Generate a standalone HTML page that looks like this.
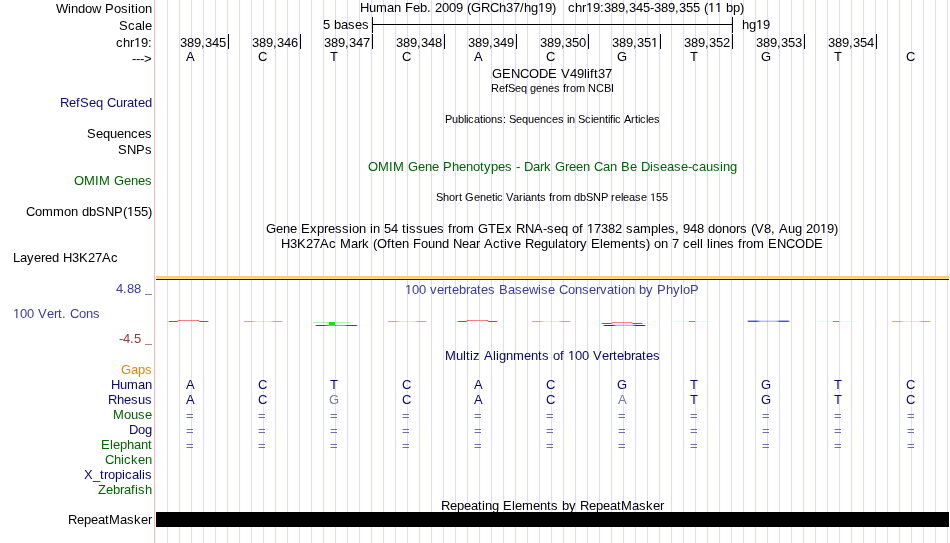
<!DOCTYPE html>
<html><head><meta charset="utf-8"><style>
html,body{margin:0;padding:0;background:#fff;width:950px;height:543px;overflow:hidden}
svg{display:block;will-change:transform}
text{font-family:"Liberation Sans",sans-serif}
</style></head><body>
<svg width="950" height="543" viewBox="0 0 950 543">
<rect x="0" y="0" width="950" height="543" fill="#fff"/>
<defs><linearGradient id="g0" x1="0" x2="1" y1="0" y2="0"><stop offset="0" stop-color="#ff0000" stop-opacity="0"/><stop offset="0.04" stop-color="#ff0000" stop-opacity="0.85"/><stop offset="0.22" stop-color="#ff0000" stop-opacity="0.85"/><stop offset="0.32" stop-color="#ff0000" stop-opacity="0.5"/><stop offset="0.68" stop-color="#ff0000" stop-opacity="0.5"/><stop offset="0.78" stop-color="#ff0000" stop-opacity="0.85"/><stop offset="0.96" stop-color="#ff0000" stop-opacity="0.85"/><stop offset="1" stop-color="#ff0000" stop-opacity="0"/></linearGradient><linearGradient id="g1" x1="0" x2="1" y1="0" y2="0"><stop offset="0" stop-color="#a09810" stop-opacity="0"/><stop offset="0.04" stop-color="#a09810" stop-opacity="0.7"/><stop offset="0.22" stop-color="#a09810" stop-opacity="0.7"/><stop offset="0.32" stop-color="#a09810" stop-opacity="0.22"/><stop offset="0.68" stop-color="#a09810" stop-opacity="0.22"/><stop offset="0.78" stop-color="#a09810" stop-opacity="0.7"/><stop offset="0.96" stop-color="#a09810" stop-opacity="0.7"/><stop offset="1" stop-color="#a09810" stop-opacity="0"/></linearGradient><linearGradient id="g2" x1="0" x2="1" y1="0" y2="0"><stop offset="0" stop-color="#0000ff" stop-opacity="0"/><stop offset="0.04" stop-color="#0000ff" stop-opacity="0.8"/><stop offset="0.22" stop-color="#0000ff" stop-opacity="0.8"/><stop offset="0.32" stop-color="#0000ff" stop-opacity="0.4"/><stop offset="0.68" stop-color="#0000ff" stop-opacity="0.4"/><stop offset="0.78" stop-color="#0000ff" stop-opacity="0.8"/><stop offset="0.96" stop-color="#0000ff" stop-opacity="0.8"/><stop offset="1" stop-color="#0000ff" stop-opacity="0"/></linearGradient><linearGradient id="g3" x1="0" x2="1" y1="0" y2="0"><stop offset="0" stop-color="#0000ff" stop-opacity="0"/><stop offset="0.04" stop-color="#0000ff" stop-opacity="0.9"/><stop offset="0.22" stop-color="#0000ff" stop-opacity="0.9"/><stop offset="0.32" stop-color="#0000ff" stop-opacity="0.3"/><stop offset="0.68" stop-color="#0000ff" stop-opacity="0.3"/><stop offset="0.78" stop-color="#0000ff" stop-opacity="0.9"/><stop offset="0.96" stop-color="#0000ff" stop-opacity="0.9"/><stop offset="1" stop-color="#0000ff" stop-opacity="0"/></linearGradient><linearGradient id="g4" x1="0" x2="1" y1="0" y2="0"><stop offset="0" stop-color="#0000ff" stop-opacity="0"/><stop offset="0.04" stop-color="#0000ff" stop-opacity="0.8"/><stop offset="0.22" stop-color="#0000ff" stop-opacity="0.8"/><stop offset="0.32" stop-color="#0000ff" stop-opacity="0.3"/><stop offset="0.68" stop-color="#0000ff" stop-opacity="0.3"/><stop offset="0.78" stop-color="#0000ff" stop-opacity="0.8"/><stop offset="0.96" stop-color="#0000ff" stop-opacity="0.8"/><stop offset="1" stop-color="#0000ff" stop-opacity="0"/></linearGradient></defs>
<rect x="167" y="0" width="1" height="543" fill="#dcdcff"/>
<rect x="179" y="0" width="1" height="543" fill="#dcdcff"/>
<rect x="191" y="0" width="1" height="543" fill="#dcdcff"/>
<rect x="203" y="0" width="1" height="543" fill="#dcdcff"/>
<rect x="215" y="0" width="1" height="543" fill="#dcdcff"/>
<rect x="227" y="0" width="1" height="543" fill="#dcdcff"/>
<rect x="239" y="0" width="1" height="543" fill="#dcdcff"/>
<rect x="251" y="0" width="1" height="543" fill="#dcdcff"/>
<rect x="263" y="0" width="1" height="543" fill="#dcdcff"/>
<rect x="275" y="0" width="1" height="543" fill="#dcdcff"/>
<rect x="287" y="0" width="1" height="543" fill="#dcdcff"/>
<rect x="299" y="0" width="1" height="543" fill="#dcdcff"/>
<rect x="311" y="0" width="1" height="543" fill="#dcdcff"/>
<rect x="323" y="0" width="1" height="543" fill="#dcdcff"/>
<rect x="335" y="0" width="1" height="543" fill="#dcdcff"/>
<rect x="347" y="0" width="1" height="543" fill="#dcdcff"/>
<rect x="359" y="0" width="1" height="543" fill="#dcdcff"/>
<rect x="371" y="0" width="1" height="543" fill="#dcdcff"/>
<rect x="383" y="0" width="1" height="543" fill="#dcdcff"/>
<rect x="395" y="0" width="1" height="543" fill="#dcdcff"/>
<rect x="407" y="0" width="1" height="543" fill="#dcdcff"/>
<rect x="419" y="0" width="1" height="543" fill="#dcdcff"/>
<rect x="431" y="0" width="1" height="543" fill="#dcdcff"/>
<rect x="443" y="0" width="1" height="543" fill="#dcdcff"/>
<rect x="455" y="0" width="1" height="543" fill="#dcdcff"/>
<rect x="467" y="0" width="1" height="543" fill="#dcdcff"/>
<rect x="479" y="0" width="1" height="543" fill="#dcdcff"/>
<rect x="491" y="0" width="1" height="543" fill="#dcdcff"/>
<rect x="503" y="0" width="1" height="543" fill="#dcdcff"/>
<rect x="515" y="0" width="1" height="543" fill="#dcdcff"/>
<rect x="527" y="0" width="1" height="543" fill="#dcdcff"/>
<rect x="539" y="0" width="1" height="543" fill="#dcdcff"/>
<rect x="551" y="0" width="1" height="543" fill="#dcdcff"/>
<rect x="563" y="0" width="1" height="543" fill="#dcdcff"/>
<rect x="575" y="0" width="1" height="543" fill="#dcdcff"/>
<rect x="587" y="0" width="1" height="543" fill="#dcdcff"/>
<rect x="599" y="0" width="1" height="543" fill="#dcdcff"/>
<rect x="611" y="0" width="1" height="543" fill="#dcdcff"/>
<rect x="623" y="0" width="1" height="543" fill="#dcdcff"/>
<rect x="635" y="0" width="1" height="543" fill="#dcdcff"/>
<rect x="647" y="0" width="1" height="543" fill="#dcdcff"/>
<rect x="659" y="0" width="1" height="543" fill="#dcdcff"/>
<rect x="671" y="0" width="1" height="543" fill="#dcdcff"/>
<rect x="683" y="0" width="1" height="543" fill="#dcdcff"/>
<rect x="695" y="0" width="1" height="543" fill="#dcdcff"/>
<rect x="707" y="0" width="1" height="543" fill="#dcdcff"/>
<rect x="719" y="0" width="1" height="543" fill="#dcdcff"/>
<rect x="731" y="0" width="1" height="543" fill="#dcdcff"/>
<rect x="743" y="0" width="1" height="543" fill="#dcdcff"/>
<rect x="755" y="0" width="1" height="543" fill="#dcdcff"/>
<rect x="767" y="0" width="1" height="543" fill="#dcdcff"/>
<rect x="779" y="0" width="1" height="543" fill="#dcdcff"/>
<rect x="791" y="0" width="1" height="543" fill="#dcdcff"/>
<rect x="803" y="0" width="1" height="543" fill="#dcdcff"/>
<rect x="815" y="0" width="1" height="543" fill="#dcdcff"/>
<rect x="827" y="0" width="1" height="543" fill="#dcdcff"/>
<rect x="839" y="0" width="1" height="543" fill="#dcdcff"/>
<rect x="851" y="0" width="1" height="543" fill="#dcdcff"/>
<rect x="863" y="0" width="1" height="543" fill="#dcdcff"/>
<rect x="875" y="0" width="1" height="543" fill="#dcdcff"/>
<rect x="887" y="0" width="1" height="543" fill="#dcdcff"/>
<rect x="899" y="0" width="1" height="543" fill="#dcdcff"/>
<rect x="911" y="0" width="1" height="543" fill="#dcdcff"/>
<rect x="923" y="0" width="1" height="543" fill="#dcdcff"/>
<rect x="935" y="0" width="1" height="543" fill="#dcdcff"/>
<rect x="947" y="0" width="1" height="543" fill="#dcdcff"/>
<rect x="154" y="0" width="1" height="543" fill="#ffb4b4"/>
<g transform="translate(0 13) scale(1 1.05)"><text x="56 68 71 78 85 92 105 114 121 128 131 135 138 145" y="0" font-size="13" fill="#000" >WindowPosition</text></g>
<g transform="translate(0 30) scale(1 1.05)"><text x="119 128 135 142 145" y="0" font-size="13" fill="#000" >Scale</text></g>
<path transform="translate(134.0 47) scale(0.006348 -0.006348)" d="M515 0V1237L197 1010V1180L530 1409H696V0Z" fill="#000"/>
<g transform="translate(0 47) scale(1 1.05)"><text x="116 123 130 141 148" y="0" font-size="13" fill="#000" >chr9:</text></g>
<g transform="translate(0 63) scale(1 1.05)"><text x="132 136 140 144" y="0" font-size="13" fill="#000" >---&gt;</text></g>
<g transform="translate(0 107) scale(1 1.05)"><text x="60 69 76 80 89 96 107 116 123 127 134 138 145" y="0" font-size="13" fill="#0c0c78" >RefSeqCurated</text></g>
<g transform="translate(0 138) scale(1 1.05)"><text x="87 96 103 110 117 124 131 138 145" y="0" font-size="13" fill="#000" >Sequences</text></g>
<g transform="translate(0 154) scale(1 1.05)"><text x="118 127 136 145" y="0" font-size="13" fill="#000" >SNPs</text></g>
<g transform="translate(0 185) scale(1 1.05)"><text x="74 84 95 99 114 124 131 138 145" y="0" font-size="13" fill="#006400" >OMIMGenes</text></g>
<path transform="translate(127.0 216) scale(0.006348 -0.006348)" d="M515 0V1237L197 1010V1180L530 1409H696V0Z" fill="#000"/>
<g transform="translate(0 216) scale(1 1.05)"><text x="26 35 42 53 64 71 82 89 96 105 114 123 134 141 148" y="0" font-size="13" fill="#000" >CommondbSNP(55)</text></g>
<g transform="translate(0 262) scale(1 1.05)"><text x="13 20 27 34 41 45 52 63 72 79 88 95 102 111" y="0" font-size="13" fill="#000" >LayeredH3K27Ac</text></g>
<path transform="translate(538.0 12) scale(0.006348 -0.006348)" d="M515 0V1237L197 1010V1180L530 1409H696V0Z" fill="#000"/>
<g transform="translate(0 12) scale(1 1.05)"><text x="360 369 376 387 394 405 413 420 427 435 442 449 456 467 471 481 490 499 506 513 520 524 531 545 552" y="0" font-size="13" fill="#000" >HumanFeb.2009(GRCh37/hg9)</text></g>
<path transform="translate(586.0 12) scale(0.006348 -0.006348)" d="M515 0V1237L197 1010V1180L530 1409H696V0Z" fill="#000"/>
<path transform="translate(708.0 12) scale(0.006348 -0.006348)" d="M515 0V1237L197 1010V1180L530 1409H696V0Z" fill="#000"/>
<path transform="translate(715.0 12) scale(0.006348 -0.006348)" d="M515 0V1237L197 1010V1180L530 1409H696V0Z" fill="#000"/>
<g transform="translate(0 12) scale(1 1.05)"><text x="568 575 582 593 600 604 611 618 625 629 636 643 650 654 661 668 675 679 686 693 704 726 733 740" y="0" font-size="13" fill="#000" >chr9:389,345-389,355(bp)</text></g>
<g transform="translate(0 29) scale(1 1.05)"><text x="323 334 341 348 355 362" y="0" font-size="13" fill="#000" >5bases</text></g>
<rect x="372" y="17" width="1" height="16" fill="#000"/>
<rect x="732" y="17" width="1" height="16" fill="#000"/>
<rect x="372" y="24" width="361" height="1" fill="#000"/>
<path transform="translate(756.0 29) scale(0.006348 -0.006348)" d="M515 0V1237L197 1010V1180L530 1409H696V0Z" fill="#000"/>
<g transform="translate(0 29) scale(1 1.05)"><text x="742 749 763" y="0" font-size="13" fill="#000" >hg9</text></g>
<rect x="228" y="34" width="1" height="15" fill="#000"/>
<g transform="translate(0 47) scale(1 1.05)"><text x="180 187 194 201 205 212 219" y="0" font-size="13" fill="#000" >389,345</text></g>
<rect x="300" y="34" width="1" height="15" fill="#000"/>
<g transform="translate(0 47) scale(1 1.05)"><text x="252 259 266 273 277 284 291" y="0" font-size="13" fill="#000" >389,346</text></g>
<rect x="372" y="34" width="1" height="15" fill="#000"/>
<g transform="translate(0 47) scale(1 1.05)"><text x="324 331 338 345 349 356 363" y="0" font-size="13" fill="#000" >389,347</text></g>
<rect x="444" y="34" width="1" height="15" fill="#000"/>
<g transform="translate(0 47) scale(1 1.05)"><text x="396 403 410 417 421 428 435" y="0" font-size="13" fill="#000" >389,348</text></g>
<rect x="516" y="34" width="1" height="15" fill="#000"/>
<g transform="translate(0 47) scale(1 1.05)"><text x="468 475 482 489 493 500 507" y="0" font-size="13" fill="#000" >389,349</text></g>
<rect x="588" y="34" width="1" height="15" fill="#000"/>
<g transform="translate(0 47) scale(1 1.05)"><text x="540 547 554 561 565 572 579" y="0" font-size="13" fill="#000" >389,350</text></g>
<rect x="660" y="34" width="1" height="15" fill="#000"/>
<path transform="translate(651.0 47) scale(0.006348 -0.006348)" d="M515 0V1237L197 1010V1180L530 1409H696V0Z" fill="#000"/>
<g transform="translate(0 47) scale(1 1.05)"><text x="612 619 626 633 637 644" y="0" font-size="13" fill="#000" >389,35</text></g>
<rect x="732" y="34" width="1" height="15" fill="#000"/>
<g transform="translate(0 47) scale(1 1.05)"><text x="684 691 698 705 709 716 723" y="0" font-size="13" fill="#000" >389,352</text></g>
<rect x="804" y="34" width="1" height="15" fill="#000"/>
<g transform="translate(0 47) scale(1 1.05)"><text x="756 763 770 777 781 788 795" y="0" font-size="13" fill="#000" >389,353</text></g>
<rect x="876" y="34" width="1" height="15" fill="#000"/>
<g transform="translate(0 47) scale(1 1.05)"><text x="828 835 842 849 853 860 867" y="0" font-size="13" fill="#000" >389,354</text></g>
<g transform="translate(0 61) scale(1 1.05)"><text x="186" y="0" font-size="13" fill="#000" >A</text></g>
<g transform="translate(0 61) scale(1 1.05)"><text x="258" y="0" font-size="13" fill="#000" >C</text></g>
<g transform="translate(0 61) scale(1 1.05)"><text x="330" y="0" font-size="13" fill="#000" >T</text></g>
<g transform="translate(0 61) scale(1 1.05)"><text x="402" y="0" font-size="13" fill="#000" >C</text></g>
<g transform="translate(0 61) scale(1 1.05)"><text x="474" y="0" font-size="13" fill="#000" >A</text></g>
<g transform="translate(0 61) scale(1 1.05)"><text x="546" y="0" font-size="13" fill="#000" >C</text></g>
<g transform="translate(0 61) scale(1 1.05)"><text x="617" y="0" font-size="13" fill="#000" >G</text></g>
<g transform="translate(0 61) scale(1 1.05)"><text x="690" y="0" font-size="13" fill="#000" >T</text></g>
<g transform="translate(0 61) scale(1 1.05)"><text x="761" y="0" font-size="13" fill="#000" >G</text></g>
<g transform="translate(0 61) scale(1 1.05)"><text x="834" y="0" font-size="13" fill="#000" >T</text></g>
<g transform="translate(0 61) scale(1 1.05)"><text x="906" y="0" font-size="13" fill="#000" >C</text></g>
<g transform="translate(0 78) scale(1 1.05)"><text x="492 502 511 520 529 539 548 561 570 577 584 587 590 594 598 605" y="0" font-size="13" fill="#000" >GENCODEV49lift37</text></g>
<text x="491 499 505 508 515 521 530 536 542 548 554 563 566 570 576 588 596 604 611" y="92" font-size="11" fill="#000" >RefSeqgenesfromNCBI</text>
<text x="445 452 458 464 466 468 474 480 483 485 491 497 503 509 516 522 528 534 540 546 552 558 567 569 578 585 591 593 599 605 608 610 613 615 624 631 635 638 640 646 648 654" y="123" font-size="11" fill="#000" >Publications:SequencesinScientificArticles</text>
<g transform="translate(0 171) scale(1 1.05)"><text x="368 378 389 393 408 418 425 432 443 452 459 466 473 480 484 491 498 505 516 524 533 540 544 555 565 569 576 583 594 603 610 621 630 641 650 653 660 667 674 681 688 692 699 706 713 720 723 730" y="0" font-size="13" fill="#006400" >OMIMGenePhenotypes-DarkGreenCanBeDisease-causing</text></g>
<path transform="translate(650.0 201) scale(0.005371 -0.005371)" d="M515 0V1237L197 1010V1180L530 1409H696V0Z" fill="#000"/>
<text x="436 443 449 455 459 465 474 480 486 492 495 497 506 513 519 523 525 531 537 540 549 552 556 562 574 580 586 593 601 611 615 621 623 629 635 641 656 662" y="201" font-size="11" fill="#000" >ShortGeneticVariantsfromdbSNPrelease55</text>
<path transform="translate(587.0 233) scale(0.006348 -0.006348)" d="M515 0V1237L197 1010V1180L530 1409H696V0Z" fill="#000"/>
<path transform="translate(820.0 233) scale(0.006348 -0.006348)" d="M515 0V1237L197 1010V1180L530 1409H696V0Z" fill="#000"/>
<g transform="translate(0 233) scale(1 1.05)"><text x="266 276 283 290 301 310 317 324 328 335 342 349 352 359 370 373 384 391 402 406 409 416 423 430 437 448 452 456 463 478 488 496 505 516 525 534 543 547 554 561 572 579 594 601 608 615 626 633 640 651 658 661 668 675 683 690 697 708 715 722 729 736 740 751 755 764 771 779 788 795 806 813 827 834" y="0" font-size="13" fill="#000" >GeneExpressionin54tissuesfromGTExRNA-seqof7382samples,948donors(V8,Aug209)</text></g>
<g transform="translate(0 248) scale(1 1.05)"><text x="281 290 297 306 313 320 329 340 351 358 362 373 377 387 391 395 402 413 421 428 435 442 453 462 469 476 484 493 500 504 507 514 525 534 541 548 555 558 565 569 576 580 591 600 603 610 621 628 635 639 646 654 661 672 683 690 697 700 707 710 713 720 727 738 742 746 753 768 777 786 795 805 814" y="0" font-size="13" fill="#000" >H3K27AcMark(OftenFoundNearActiveRegulatoryElements)on7celllinesfromENCODE</text></g>
<rect x="156" y="276" width="793" height="2" fill="#fccd74"/>
<rect x="156" y="278" width="793" height="1" fill="#ffdf88"/>
<rect x="156" y="279" width="793" height="1" fill="#3a0a2a"/>
<path transform="translate(405.0 294) scale(0.006348 -0.006348)" d="M515 0V1237L197 1010V1180L530 1409H696V0Z" fill="#3c3c96"/>
<g transform="translate(0 294) scale(1 1.05)"><text x="412 419 430 437 444 448 452 459 466 470 477 481 488 499 508 515 522 529 538 541 548 559 568 575 582 589 596 600 607 614 618 621 628 639 646 657 666 673 680 683 690" y="0" font-size="13" fill="#3c3c96" >00vertebratesBasewiseConservationbyPhyloP</text></g>
<g transform="translate(0 293) scale(1 1.05)"><text x="116 123 127 134" y="0" font-size="13" fill="#3c3c96" >4.88</text></g>
<rect x="145" y="294" width="7" height="1" fill="#8080bb"/>
<path transform="translate(13 318) scale(0.006348 -0.006348)" d="M515 0V1237L197 1010V1180L530 1409H696V0Z" fill="#3c3c96"/>
<g transform="translate(0 318) scale(1 1.05)"><text x="20 27 38 47 54 58 62 70 79 86 93" y="0" font-size="13" fill="#3c3c96" >00Vert.Cons</text></g>
<g transform="translate(0 343) scale(1 1.05)"><text x="119 123 130 134" y="0" font-size="13" fill="#8c3c3c" >-4.5</text></g>
<rect x="145" y="344" width="7" height="1" fill="#b48080"/>
<path d="M168 321.5 L177 321.5 L179 320.5 L198 320.5 L200 321.5 L209 321.5" stroke="url(#g0)" stroke-width="1" fill="none"/>
<path d="M457 321.5 L466 321.5 L468 320.5 L487 320.5 L489 321.5 L498 321.5" stroke="url(#g0)" stroke-width="1" fill="none"/>
<path d="M601 323.5 L611 323.5 L613 322.5 L631 322.5 L633 323.5 L643 323.5" stroke="url(#g0)" stroke-width="1" fill="none"/>
<rect x="243" y="321" width="40" height="1" fill="url(#g1)"/>
<rect x="387" y="321" width="40" height="1" fill="url(#g1)"/>
<rect x="531" y="321" width="40" height="1" fill="url(#g1)"/>
<rect x="891" y="321" width="40" height="1" fill="url(#g1)"/>
<rect x="313" y="322" width="38" height="1" fill="#00e000" fill-opacity="0.3"/>
<rect x="329" y="322" width="6" height="3" fill="#00f000" fill-opacity="1.0"/>
<rect x="315" y="325" width="43" height="1" fill="url(#g2)"/>
<rect x="603" y="325" width="43" height="1" fill="url(#g3)"/>
<rect x="612" y="324" width="25" height="1" fill="#0000ff" fill-opacity="0.12"/>
<rect x="747" y="320.6" width="43" height="1.3" fill="url(#g4)"/>
<rect x="673" y="321" width="38" height="1" fill="#00e000" fill-opacity="0.1"/>
<rect x="689" y="321" width="6" height="1" fill="#00e000" fill-opacity="0.9"/>
<rect x="817" y="321" width="38" height="1" fill="#00e000" fill-opacity="0.1"/>
<rect x="833" y="321" width="6" height="1" fill="#00e000" fill-opacity="0.9"/>
<path transform="translate(568.0 360) scale(0.006348 -0.006348)" d="M515 0V1237L197 1010V1180L530 1409H696V0Z" fill="#08086a"/>
<g transform="translate(0 360) scale(1 1.05)"><text x="445 456 463 466 470 473 484 493 496 499 506 513 524 531 538 542 553 560 575 582 593 602 609 613 617 624 631 635 642 646 653" y="0" font-size="13" fill="#08086a" >MultizAlignmentsof00Vertebrates</text></g>
<g transform="translate(0 374) scale(1 1.05)"><text x="121 131 138 145" y="0" font-size="13" fill="#e0860a" >Gaps</text></g>
<g transform="translate(0 389) scale(1 1.05)"><text x="111 120 127 138 145" y="0" font-size="13" fill="#08086a" >Human</text></g>
<g transform="translate(0 404) scale(1 1.05)"><text x="108 117 124 131 138 145" y="0" font-size="13" fill="#08086a" >Rhesus</text></g>
<g transform="translate(0 419) scale(1 1.05)"><text x="113 124 131 138 145" y="0" font-size="13" fill="#006400" >Mouse</text></g>
<g transform="translate(0 434) scale(1 1.05)"><text x="129 138 145" y="0" font-size="13" fill="#08086a" >Dog</text></g>
<g transform="translate(0 449) scale(1 1.05)"><text x="101 110 113 120 127 134 141 148" y="0" font-size="13" fill="#006400" >Elephant</text></g>
<g transform="translate(0 464) scale(1 1.05)"><text x="105 114 121 124 131 138 145" y="0" font-size="13" fill="#006400" >Chicken</text></g>
<g transform="translate(0 479) scale(1 1.05)"><text x="84 93 100 104 108 115 122 125 132 139 142 145" y="0" font-size="13" fill="#08086a" >X_tropicalis</text></g>
<g transform="translate(0 494) scale(1 1.05)"><text x="98 106 113 120 124 131 135 138 145" y="0" font-size="13" fill="#006400" >Zebrafish</text></g>
<g transform="translate(0 389) scale(1 1.05)"><text x="186" y="0" font-size="13" fill="#08086a" >A</text></g>
<g transform="translate(0 389) scale(1 1.05)"><text x="258" y="0" font-size="13" fill="#08086a" >C</text></g>
<g transform="translate(0 389) scale(1 1.05)"><text x="330" y="0" font-size="13" fill="#08086a" >T</text></g>
<g transform="translate(0 389) scale(1 1.05)"><text x="402" y="0" font-size="13" fill="#08086a" >C</text></g>
<g transform="translate(0 389) scale(1 1.05)"><text x="474" y="0" font-size="13" fill="#08086a" >A</text></g>
<g transform="translate(0 389) scale(1 1.05)"><text x="546" y="0" font-size="13" fill="#08086a" >C</text></g>
<g transform="translate(0 389) scale(1 1.05)"><text x="617" y="0" font-size="13" fill="#08086a" >G</text></g>
<g transform="translate(0 389) scale(1 1.05)"><text x="690" y="0" font-size="13" fill="#08086a" >T</text></g>
<g transform="translate(0 389) scale(1 1.05)"><text x="761" y="0" font-size="13" fill="#08086a" >G</text></g>
<g transform="translate(0 389) scale(1 1.05)"><text x="834" y="0" font-size="13" fill="#08086a" >T</text></g>
<g transform="translate(0 389) scale(1 1.05)"><text x="906" y="0" font-size="13" fill="#08086a" >C</text></g>
<g transform="translate(0 404) scale(1 1.05)"><text x="186" y="0" font-size="13" fill="#08086a" >A</text></g>
<g transform="translate(0 404) scale(1 1.05)"><text x="258" y="0" font-size="13" fill="#08086a" >C</text></g>
<g transform="translate(0 404) scale(1 1.05)"><text x="329" y="0" font-size="13" fill="#7878a8" >G</text></g>
<g transform="translate(0 404) scale(1 1.05)"><text x="402" y="0" font-size="13" fill="#08086a" >C</text></g>
<g transform="translate(0 404) scale(1 1.05)"><text x="474" y="0" font-size="13" fill="#08086a" >A</text></g>
<g transform="translate(0 404) scale(1 1.05)"><text x="546" y="0" font-size="13" fill="#08086a" >C</text></g>
<g transform="translate(0 404) scale(1 1.05)"><text x="618" y="0" font-size="13" fill="#7878a8" >A</text></g>
<g transform="translate(0 404) scale(1 1.05)"><text x="690" y="0" font-size="13" fill="#08086a" >T</text></g>
<g transform="translate(0 404) scale(1 1.05)"><text x="761" y="0" font-size="13" fill="#08086a" >G</text></g>
<g transform="translate(0 404) scale(1 1.05)"><text x="834" y="0" font-size="13" fill="#08086a" >T</text></g>
<g transform="translate(0 404) scale(1 1.05)"><text x="906" y="0" font-size="13" fill="#08086a" >C</text></g>
<rect x="187" y="414" width="6" height="1" fill="#6e6eaa"/>
<rect x="186" y="414" width="1" height="1" fill="#c8c8e0"/>
<rect x="187" y="417" width="6" height="1" fill="#6e6eaa"/>
<rect x="186" y="417" width="1" height="1" fill="#c8c8e0"/>
<rect x="259" y="414" width="6" height="1" fill="#6e6eaa"/>
<rect x="258" y="414" width="1" height="1" fill="#c8c8e0"/>
<rect x="259" y="417" width="6" height="1" fill="#6e6eaa"/>
<rect x="258" y="417" width="1" height="1" fill="#c8c8e0"/>
<rect x="331" y="414" width="6" height="1" fill="#6e6eaa"/>
<rect x="330" y="414" width="1" height="1" fill="#c8c8e0"/>
<rect x="331" y="417" width="6" height="1" fill="#6e6eaa"/>
<rect x="330" y="417" width="1" height="1" fill="#c8c8e0"/>
<rect x="403" y="414" width="6" height="1" fill="#6e6eaa"/>
<rect x="402" y="414" width="1" height="1" fill="#c8c8e0"/>
<rect x="403" y="417" width="6" height="1" fill="#6e6eaa"/>
<rect x="402" y="417" width="1" height="1" fill="#c8c8e0"/>
<rect x="475" y="414" width="6" height="1" fill="#6e6eaa"/>
<rect x="474" y="414" width="1" height="1" fill="#c8c8e0"/>
<rect x="475" y="417" width="6" height="1" fill="#6e6eaa"/>
<rect x="474" y="417" width="1" height="1" fill="#c8c8e0"/>
<rect x="547" y="414" width="6" height="1" fill="#6e6eaa"/>
<rect x="546" y="414" width="1" height="1" fill="#c8c8e0"/>
<rect x="547" y="417" width="6" height="1" fill="#6e6eaa"/>
<rect x="546" y="417" width="1" height="1" fill="#c8c8e0"/>
<rect x="619" y="414" width="6" height="1" fill="#6e6eaa"/>
<rect x="618" y="414" width="1" height="1" fill="#c8c8e0"/>
<rect x="619" y="417" width="6" height="1" fill="#6e6eaa"/>
<rect x="618" y="417" width="1" height="1" fill="#c8c8e0"/>
<rect x="691" y="414" width="6" height="1" fill="#6e6eaa"/>
<rect x="690" y="414" width="1" height="1" fill="#c8c8e0"/>
<rect x="691" y="417" width="6" height="1" fill="#6e6eaa"/>
<rect x="690" y="417" width="1" height="1" fill="#c8c8e0"/>
<rect x="763" y="414" width="6" height="1" fill="#6e6eaa"/>
<rect x="762" y="414" width="1" height="1" fill="#c8c8e0"/>
<rect x="763" y="417" width="6" height="1" fill="#6e6eaa"/>
<rect x="762" y="417" width="1" height="1" fill="#c8c8e0"/>
<rect x="835" y="414" width="6" height="1" fill="#6e6eaa"/>
<rect x="834" y="414" width="1" height="1" fill="#c8c8e0"/>
<rect x="835" y="417" width="6" height="1" fill="#6e6eaa"/>
<rect x="834" y="417" width="1" height="1" fill="#c8c8e0"/>
<rect x="908" y="414" width="6" height="1" fill="#6e6eaa"/>
<rect x="907" y="414" width="1" height="1" fill="#c8c8e0"/>
<rect x="908" y="417" width="6" height="1" fill="#6e6eaa"/>
<rect x="907" y="417" width="1" height="1" fill="#c8c8e0"/>
<rect x="187" y="429" width="6" height="1" fill="#6e6eaa"/>
<rect x="186" y="429" width="1" height="1" fill="#c8c8e0"/>
<rect x="187" y="432" width="6" height="1" fill="#6e6eaa"/>
<rect x="186" y="432" width="1" height="1" fill="#c8c8e0"/>
<rect x="259" y="429" width="6" height="1" fill="#6e6eaa"/>
<rect x="258" y="429" width="1" height="1" fill="#c8c8e0"/>
<rect x="259" y="432" width="6" height="1" fill="#6e6eaa"/>
<rect x="258" y="432" width="1" height="1" fill="#c8c8e0"/>
<rect x="331" y="429" width="6" height="1" fill="#6e6eaa"/>
<rect x="330" y="429" width="1" height="1" fill="#c8c8e0"/>
<rect x="331" y="432" width="6" height="1" fill="#6e6eaa"/>
<rect x="330" y="432" width="1" height="1" fill="#c8c8e0"/>
<rect x="403" y="429" width="6" height="1" fill="#6e6eaa"/>
<rect x="402" y="429" width="1" height="1" fill="#c8c8e0"/>
<rect x="403" y="432" width="6" height="1" fill="#6e6eaa"/>
<rect x="402" y="432" width="1" height="1" fill="#c8c8e0"/>
<rect x="475" y="429" width="6" height="1" fill="#6e6eaa"/>
<rect x="474" y="429" width="1" height="1" fill="#c8c8e0"/>
<rect x="475" y="432" width="6" height="1" fill="#6e6eaa"/>
<rect x="474" y="432" width="1" height="1" fill="#c8c8e0"/>
<rect x="547" y="429" width="6" height="1" fill="#6e6eaa"/>
<rect x="546" y="429" width="1" height="1" fill="#c8c8e0"/>
<rect x="547" y="432" width="6" height="1" fill="#6e6eaa"/>
<rect x="546" y="432" width="1" height="1" fill="#c8c8e0"/>
<rect x="619" y="429" width="6" height="1" fill="#6e6eaa"/>
<rect x="618" y="429" width="1" height="1" fill="#c8c8e0"/>
<rect x="619" y="432" width="6" height="1" fill="#6e6eaa"/>
<rect x="618" y="432" width="1" height="1" fill="#c8c8e0"/>
<rect x="691" y="429" width="6" height="1" fill="#6e6eaa"/>
<rect x="690" y="429" width="1" height="1" fill="#c8c8e0"/>
<rect x="691" y="432" width="6" height="1" fill="#6e6eaa"/>
<rect x="690" y="432" width="1" height="1" fill="#c8c8e0"/>
<rect x="763" y="429" width="6" height="1" fill="#6e6eaa"/>
<rect x="762" y="429" width="1" height="1" fill="#c8c8e0"/>
<rect x="763" y="432" width="6" height="1" fill="#6e6eaa"/>
<rect x="762" y="432" width="1" height="1" fill="#c8c8e0"/>
<rect x="835" y="429" width="6" height="1" fill="#6e6eaa"/>
<rect x="834" y="429" width="1" height="1" fill="#c8c8e0"/>
<rect x="835" y="432" width="6" height="1" fill="#6e6eaa"/>
<rect x="834" y="432" width="1" height="1" fill="#c8c8e0"/>
<rect x="908" y="429" width="6" height="1" fill="#6e6eaa"/>
<rect x="907" y="429" width="1" height="1" fill="#c8c8e0"/>
<rect x="908" y="432" width="6" height="1" fill="#6e6eaa"/>
<rect x="907" y="432" width="1" height="1" fill="#c8c8e0"/>
<rect x="187" y="444" width="6" height="1" fill="#6e6eaa"/>
<rect x="186" y="444" width="1" height="1" fill="#c8c8e0"/>
<rect x="187" y="447" width="6" height="1" fill="#6e6eaa"/>
<rect x="186" y="447" width="1" height="1" fill="#c8c8e0"/>
<rect x="259" y="444" width="6" height="1" fill="#6e6eaa"/>
<rect x="258" y="444" width="1" height="1" fill="#c8c8e0"/>
<rect x="259" y="447" width="6" height="1" fill="#6e6eaa"/>
<rect x="258" y="447" width="1" height="1" fill="#c8c8e0"/>
<rect x="331" y="444" width="6" height="1" fill="#6e6eaa"/>
<rect x="330" y="444" width="1" height="1" fill="#c8c8e0"/>
<rect x="331" y="447" width="6" height="1" fill="#6e6eaa"/>
<rect x="330" y="447" width="1" height="1" fill="#c8c8e0"/>
<rect x="403" y="444" width="6" height="1" fill="#6e6eaa"/>
<rect x="402" y="444" width="1" height="1" fill="#c8c8e0"/>
<rect x="403" y="447" width="6" height="1" fill="#6e6eaa"/>
<rect x="402" y="447" width="1" height="1" fill="#c8c8e0"/>
<rect x="475" y="444" width="6" height="1" fill="#6e6eaa"/>
<rect x="474" y="444" width="1" height="1" fill="#c8c8e0"/>
<rect x="475" y="447" width="6" height="1" fill="#6e6eaa"/>
<rect x="474" y="447" width="1" height="1" fill="#c8c8e0"/>
<rect x="547" y="444" width="6" height="1" fill="#6e6eaa"/>
<rect x="546" y="444" width="1" height="1" fill="#c8c8e0"/>
<rect x="547" y="447" width="6" height="1" fill="#6e6eaa"/>
<rect x="546" y="447" width="1" height="1" fill="#c8c8e0"/>
<rect x="619" y="444" width="6" height="1" fill="#6e6eaa"/>
<rect x="618" y="444" width="1" height="1" fill="#c8c8e0"/>
<rect x="619" y="447" width="6" height="1" fill="#6e6eaa"/>
<rect x="618" y="447" width="1" height="1" fill="#c8c8e0"/>
<rect x="691" y="444" width="6" height="1" fill="#6e6eaa"/>
<rect x="690" y="444" width="1" height="1" fill="#c8c8e0"/>
<rect x="691" y="447" width="6" height="1" fill="#6e6eaa"/>
<rect x="690" y="447" width="1" height="1" fill="#c8c8e0"/>
<rect x="763" y="444" width="6" height="1" fill="#6e6eaa"/>
<rect x="762" y="444" width="1" height="1" fill="#c8c8e0"/>
<rect x="763" y="447" width="6" height="1" fill="#6e6eaa"/>
<rect x="762" y="447" width="1" height="1" fill="#c8c8e0"/>
<rect x="835" y="444" width="6" height="1" fill="#6e6eaa"/>
<rect x="834" y="444" width="1" height="1" fill="#c8c8e0"/>
<rect x="835" y="447" width="6" height="1" fill="#6e6eaa"/>
<rect x="834" y="447" width="1" height="1" fill="#c8c8e0"/>
<rect x="908" y="444" width="6" height="1" fill="#6e6eaa"/>
<rect x="907" y="444" width="1" height="1" fill="#c8c8e0"/>
<rect x="908" y="447" width="6" height="1" fill="#6e6eaa"/>
<rect x="907" y="447" width="1" height="1" fill="#c8c8e0"/>
<g transform="translate(0 510) scale(1 1.05)"><text x="441 450 457 464 471 478 482 485 492 503 512 515 522 533 540 547 551 562 569 580 589 596 603 610 617 621 632 639 646 653 660" y="0" font-size="13" fill="#000" >RepeatingElementsbyRepeatMasker</text></g>
<g transform="translate(0 524) scale(1 1.05)"><text x="68 77 84 91 98 105 109 120 127 134 141 148" y="0" font-size="13" fill="#000" >RepeatMasker</text></g>
<rect x="156" y="512" width="793" height="15" fill="#000"/>
</svg></body></html>
